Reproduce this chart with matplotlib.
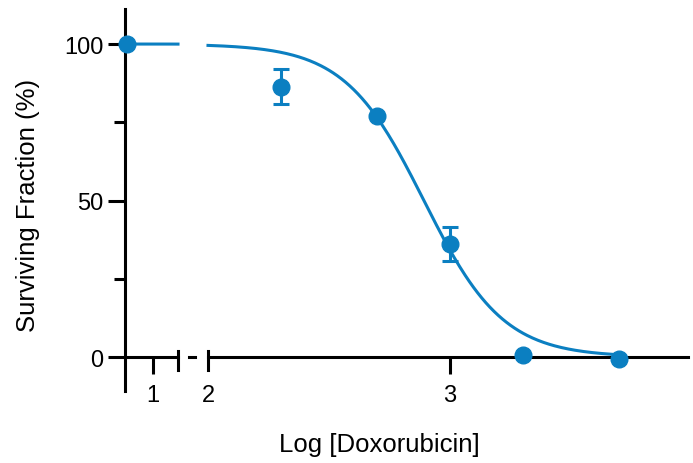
import numpy as np
import matplotlib
matplotlib.use('Agg')
import matplotlib.pyplot as plt

plt.rcParams['font.family'] = ['Liberation Sans', 'DejaVu Sans']

# dane: log stezenia i przezywalnosc (%)
x_kontrola = 0.53
y_kontrola = 100.0
log_dawka = np.log10([200, 500, 1000, 2000, 5000])
przezycie = [86.3, 77.0, 36.0, 0.8, -0.6]
blad = [5.6, 0.0, 5.4, 0.0, 0.0]

# parametry dopasowania (sigmoida)
gora = 100.0
dol = 0.0
logIC50 = 2.892
hill = 2.65

kolor = '#0b7fc1'
W, H = 693, 464
lw = 2.2


def krzywa(x):
    return dol + (gora - dol) / (1 + 10 ** ((x - logIC50) * hill))


fig = plt.figure(figsize=(W / 100, H / 100), dpi=100)
ax1 = fig.add_axes([125 / W, 72 / H, 53 / W, 382 / H])
ax2 = fig.add_axes([208 / W, 72 / H, 480 / W, 382 / H])

ylim = (-10.86, 111.2)
ax1.set_xlim(0.5, 1.45)
ax2.set_xlim(2.0, 3.983)
for ax in (ax1, ax2):
    ax.set_ylim(*ylim)
    ax.spines['top'].set_visible(False)
    ax.spines['right'].set_visible(False)
    ax.spines['bottom'].set_position(('data', 0))
    ax.spines['bottom'].set_linewidth(lw)
    ax.spines['left'].set_linewidth(lw)
    ax.patch.set_visible(False)
ax2.spines['left'].set_visible(False)
ax2.tick_params(axis='y', left=False, labelleft=False)

# os y
ax1.set_yticks([0, 50, 100])
ax1.set_yticks([25, 75], minor=True)
ax1.tick_params(axis='y', which='major', length=12.5, width=lw, labelsize=17, pad=3)
ax1.tick_params(axis='y', which='minor', length=8, width=lw)

# os x
ax1.set_xticks([1])
ax2.set_xticks([2, 3])
for ax in (ax1, ax2):
    ax.tick_params(axis='x', which='major', length=12.5, width=lw, labelsize=17, pad=7)
    ax.tick_params(axis='x', which='minor', bottom=False)
ax2.xaxis.get_major_ticks()[0].tick1line.set_visible(False)

# krzywa
xs1 = np.linspace(x_kontrola, 1.45, 50)
ax1.plot(xs1, krzywa(xs1), color=kolor, lw=lw, clip_on=False, zorder=2)
xs2 = np.linspace(2.0, log_dawka[-1], 300)
ax2.plot(xs2, krzywa(xs2), color=kolor, lw=lw, clip_on=False, zorder=2)

# punkty
ax1.plot([x_kontrola], [y_kontrola], 'o', color=kolor, ms=12, clip_on=False, zorder=4)
ax2.errorbar(log_dawka, przezycie, yerr=blad, fmt='o', color=kolor, ms=12,
             elinewidth=lw, capsize=5.8, capthick=lw, clip_on=False, zorder=4)

# przerwa osi
py = (ylim[1] - ylim[0]) / 382
ax1.plot([1.45, 1.45], [6 * py, -13 * py], color='black', lw=lw, clip_on=False, zorder=3)
ax2.plot([2.0, 2.0], [6 * py, -13 * py], color='black', lw=lw, clip_on=False, zorder=3)
ax2.plot([2 - 19 / 242, 2 - 13 / 242], [0, 0], color='black', lw=lw, clip_on=False, zorder=3)

fig.text(379 / W, (H - 452) / H, 'Log [Doxorubicin]', fontsize=18.5, ha='center', va='baseline')
fig.text(28 / W, (H - 205) / H, 'Surviving Fraction (%)', fontsize=18.5, rotation=90,
         ha='center', va='center')

fig.savefig('out.png', dpi=100)
